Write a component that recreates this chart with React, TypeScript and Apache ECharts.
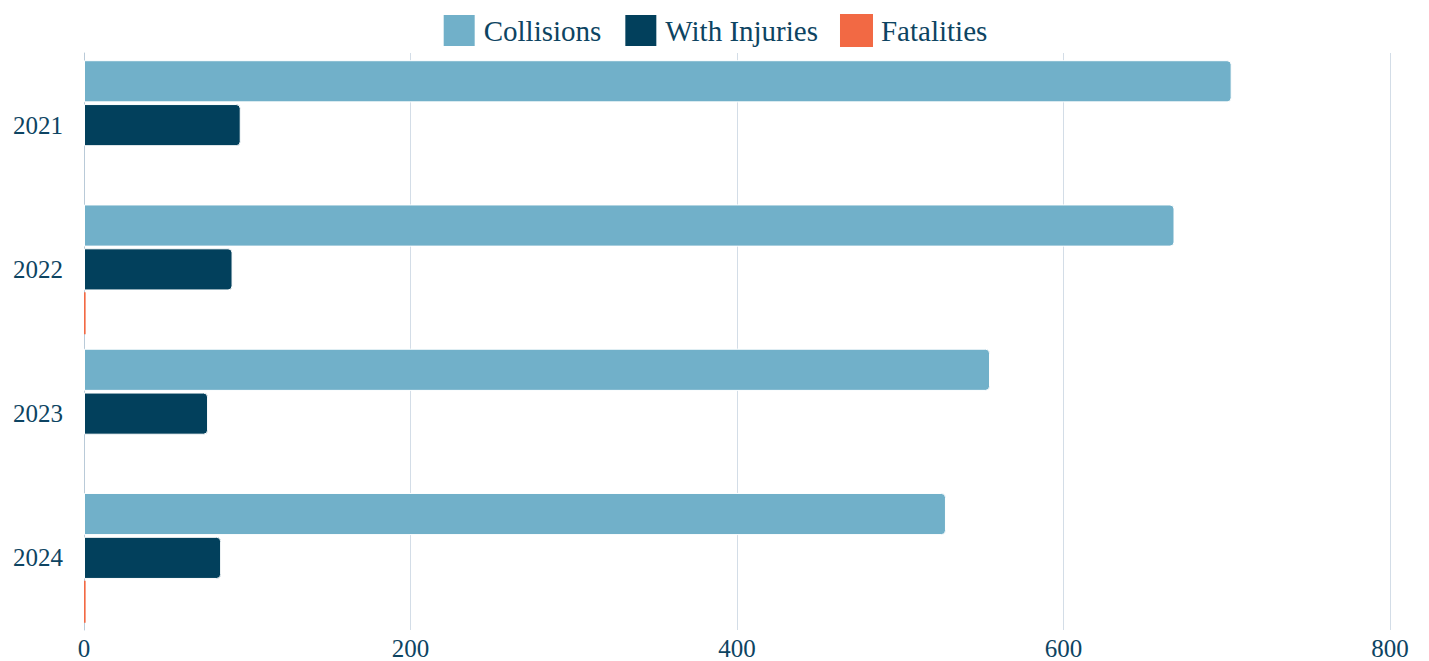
import React, { useEffect, useRef } from "react";
import * as echarts from "echarts";

const years = ["2021", "2022", "2023", "2024"];
const collisions = [703, 668, 555, 528];
const withInjuries = [96, 91, 76, 84];
const fatalities = [0, 1, 0, 1];
const xTicks = [0, 200, 400, 600, 800];

const FONT = "'Liberation Serif', 'DejaVu Serif', serif";
const TEXT = "#0d4462";

export default function App() {
  const ref = useRef<HTMLDivElement>(null);
  useEffect(() => {
    if (!ref.current) return;
    const chart = echarts.init(ref.current, undefined, { renderer: "svg" });
    const barStyle = (color: string, bw: number) => ({
      color,
      borderColor: "#ffffff",
      borderWidth: bw,
      borderRadius: [0, 4, 4, 0],
    });
    chart.setOption({
      animation: false,
      textStyle: { fontFamily: FONT },
      legend: {
        top: 8,
        left: "center",
        itemWidth: 33,
        itemHeight: 33,
        itemGap: 22,
        icon: "rect",
        textStyle: { fontFamily: FONT, fontSize: 29, color: TEXT, padding: [0, 0, 0, 3] },
        data: ["Collisions", "With Injuries", "Fatalities"],
      },
      grid: { left: 84, right: 39, top: 53, bottom: 29, containLabel: false },
      xAxis: {
        type: "value",
        min: xTicks[0],
        max: xTicks[xTicks.length - 1],
        interval: 200,
        axisLine: { show: false },
        axisTick: { show: false },
        axisLabel: { fontFamily: FONT, fontSize: 25, color: TEXT, margin: 6 },
        splitLine: { lineStyle: { color: "#d3dde7", width: 1 } },
      },
      yAxis: {
        type: "category",
        data: years,
        inverse: true,
        axisLine: { show: true, lineStyle: { color: "#b9cad8", width: 1 } },
        axisTick: { show: false },
        axisLabel: { fontFamily: FONT, fontSize: 25, color: TEXT, margin: 21 },
        splitLine: { show: false },
      },
      series: [
        {
          name: "Collisions",
          type: "bar",
          data: collisions,
          barCategoryGap: "10%",
          barGap: "4%",
          itemStyle: barStyle("#71b0c9", 1),
        },
        {
          name: "With Injuries",
          type: "bar",
          data: withInjuries,
          barCategoryGap: "10%",
          barGap: "4%",
          itemStyle: barStyle("#02405c", 1),
        },
        {
          name: "Fatalities",
          type: "bar",
          data: fatalities,
          barCategoryGap: "10%",
          barGap: "4%",
          itemStyle: { color: "#f26944", borderWidth: 0 },
        },
      ],
    });
    return () => chart.dispose();
  }, []);
  return (
    <div
      ref={ref}
      style={{ position: "fixed", left: 0, top: 0, width: 1429, height: 661, background: "#ffffff" }}
    />
  );
}
